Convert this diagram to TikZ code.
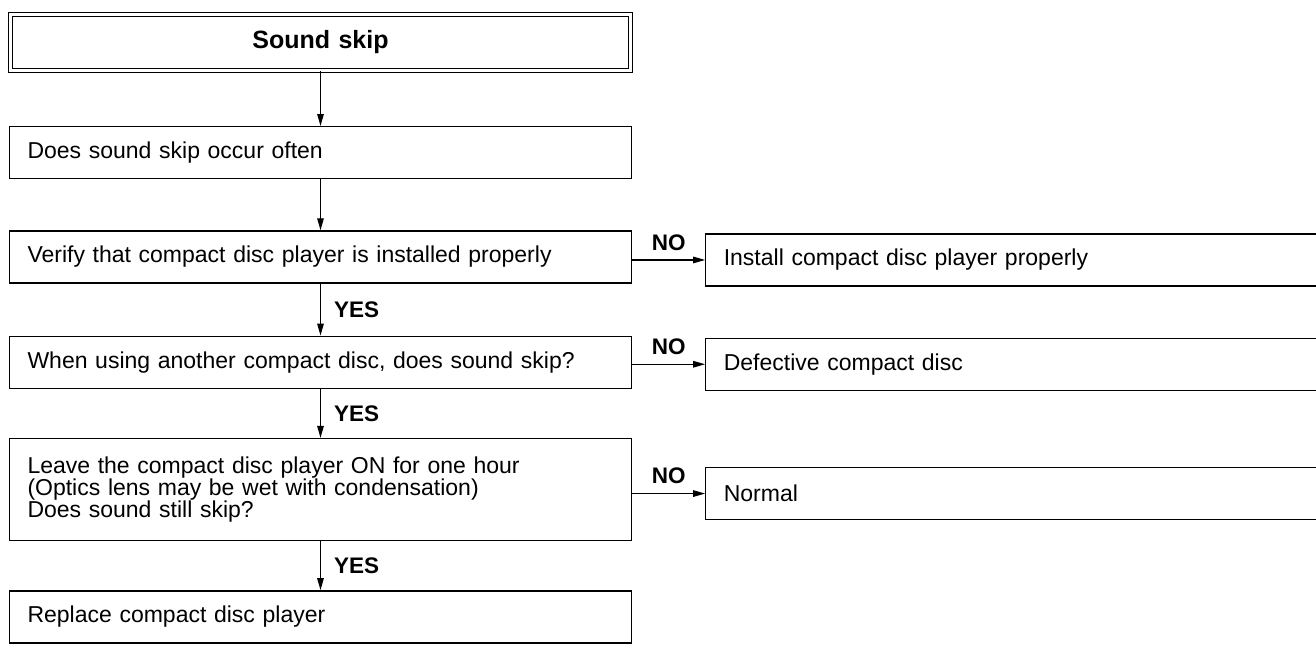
\documentclass[tikz,border=0pt]{standalone}
\usepackage{fontspec}
\setmainfont{Liberation Sans}
\usetikzlibrary{arrows.meta, positioning}

\begin{document}
\begin{tikzpicture}[x=1pt, y=-1pt,
    box/.style={draw, line width=1.3pt, minimum width=622pt, minimum height=52pt,
                text width=586pt, inner xsep=18pt, align=left,
                font=\fontsize{23}{21}\selectfont},
    head/.style={box, double, line width=1pt, double distance=3pt,
                 minimum width=620pt, text width=584pt, minimum height=56pt,
                 align=center, font=\fontsize{25}{21}\selectfont\bfseries},
    outbox/.style={box, minimum width=640pt, text width=604pt},
    arr/.style={-{Triangle[length=12pt,width=6.5pt]}, line width=1.3pt},
    lbl/.style={inner sep=0pt, font=\fontsize{22.5}{21}\selectfont\bfseries}
]
\useasboundingbox (0,0) rectangle (1316,646);

\node[head] (start) at (320.5,42.5) {Sound skip};
\node[box, below=55pt of start]   (often)   {Does sound skip occur often};
\node[box, below=51pt of often]   (verify)  {Verify that compact disc player is installed properly};
\node[box, below=52pt of verify]  (another) {When using another compact disc, does sound skip?};
\node[box, below=49pt of another, minimum height=102pt] (leaveon)
    {Leave the compact disc player ON for one hour\\
     (Optics lens may be wet with condensation)\\
     Does sound still skip?};
\node[box, below=49pt of leaveon] (replace) {Replace compact disc player};

\node[outbox, right=73pt of verify, yshift=-3pt]  (install)   {Install compact disc player properly};
\node[outbox, right=73pt of another, yshift=-2pt] (defective) {Defective compact disc};
\node[outbox, right=73pt of leaveon, yshift=-4pt] (normal)    {Normal};

% main column
\draw[arr] (start) -- (often);
\draw[arr] (often) -- (verify);
\draw[arr] (verify) -- node[lbl, right=13pt] {YES} (another);
\draw[arr] (another) -- node[lbl, right=13pt] {YES} (leaveon);
\draw[arr] (leaveon) -- node[lbl, right=13pt] {YES} (replace);

% NO branches
\draw[arr] (verify.east |- install) -- node[lbl, above=9pt] {NO} (install);
\draw[arr] (another.east |- defective) -- node[lbl, above=9pt] {NO} (defective);
\draw[arr] (leaveon.east |- normal) -- node[lbl, above=9pt] {NO} (normal);
\end{tikzpicture}
\end{document}
